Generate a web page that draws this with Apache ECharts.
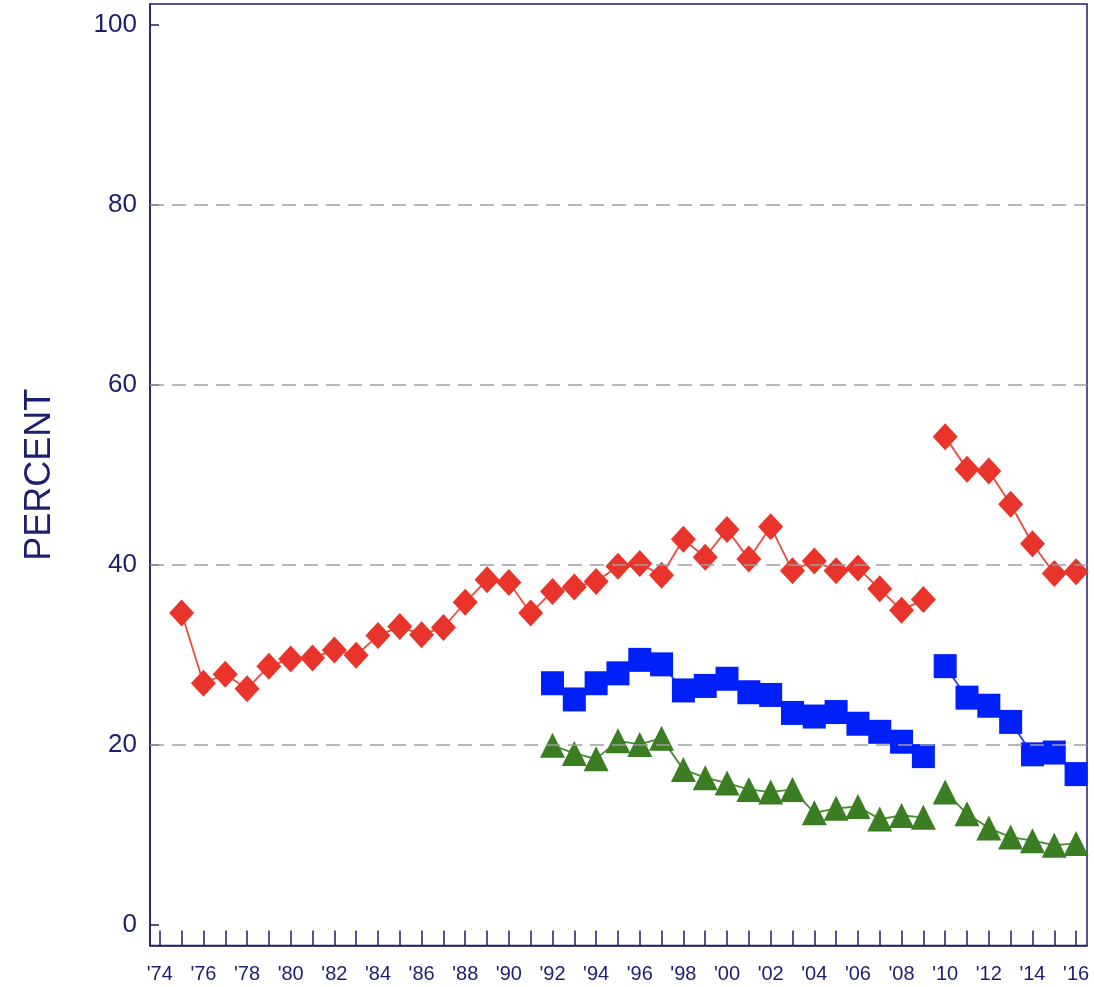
<!DOCTYPE html>
<html>
<head>
<meta charset="utf-8">
<script src="https://cdn.jsdelivr.net/npm/echarts@6/dist/echarts.min.js"></script>
<style>
html,body{margin:0;padding:0;background:#fff;}
#chart{width:1094px;height:987px;}
</style>
</head>
<body>
<div id="chart"></div>
<script>
// ---- data ----
const years = [1975,1976,1977,1978,1979,1980,1981,1982,1983,1984,1985,1986,1987,1988,1989,1990,1991,
  1992,1993,1994,1995,1996,1997,1998,1999,2000,2001,2002,2003,2004,2005,2006,2007,2008,2009,
  2010,2011,2012,2013,2014,2015,2016];
const redValues = [34.6,26.8,27.8,26.2,28.7,29.5,29.6,30.5,29.9,32.1,33.1,32.2,33.0,35.8,38.3,38.0,34.6,
  37.0,37.5,38.1,39.8,40.1,38.8,42.8,40.8,43.9,40.6,44.2,39.3,40.4,39.3,39.6,37.3,34.9,36.1,
  54.2,50.6,50.4,46.7,42.3,39.0,39.2];
const blueValues = [null,null,null,null,null,null,null,null,null,null,null,null,null,null,null,null,null,
  26.8,25.0,26.8,27.9,29.4,28.9,26.0,26.5,27.3,25.8,25.5,23.5,23.1,23.6,22.3,21.4,20.3,18.7,
  28.7,25.2,24.3,22.5,18.9,19.1,16.7];
const greenValues = [null,null,null,null,null,null,null,null,null,null,null,null,null,null,null,null,null,
  19.9,19.0,18.4,20.4,20.0,20.7,17.2,16.3,15.7,15.0,14.7,15.0,12.4,12.9,13.1,11.7,12.1,11.9,
  14.7,12.3,10.7,9.7,9.3,8.8,9.0];
const breakYear = 2010; // series restart (line not connected) from this year
const yTickValues = [0,20,40,60,80,100];
const gridLineValues = [20,40,60,80];
const xTickYears = [];
for (let y = 1974; y <= 2016; y++) xTickYears.push(y);
const xLabelYears = xTickYears.filter(y => y % 2 === 0);

// ---- build ----
function segment(values, before) {
  const out = [];
  years.forEach((y, i) => {
    if (values[i] == null) return;
    if ((y < breakYear) === before) out.push([y, values[i]]);
  });
  return out;
}
const navy = '#1e1e6e';
const styles = [
  {vals: redValues, color: '#e8342a', line: '#ea4a3f', symbol: 'diamond', size: [25, 27]},
  {vals: blueValues, color: '#0020f8', line: '#2a3cf5', symbol: 'rect', size: [23, 24]},
  {vals: greenValues, color: '#3a7d22', line: '#4a8a35', symbol: 'triangle', size: [25, 25]}
];
const series = [];
styles.forEach(s => {
  [true, false].forEach(before => {
    series.push({
      type: 'line',
      data: segment(s.vals, before),
      symbol: s.symbol,
      symbolSize: s.size,
      itemStyle: {color: s.color},
      lineStyle: {color: s.line, width: 1.8},
      showSymbol: true,
      animation: false,
      z: 3
    });
  });
});
series.push({
  type: 'line',
  data: [],
  silent: true,
  markLine: {
    silent: true,
    symbol: ['none', 'none'],
    label: {show: false},
    lineStyle: {color: '#9e9e9e', type: [14, 8], width: 1.5},
    data: gridLineValues.map(v => ({yAxis: v})),
    animation: false
  },
  z: 1
});

const chart = echarts.init(document.getElementById('chart'), null, {renderer: 'canvas'});
chart.setOption({
  animation: false,
  backgroundColor: '#fff',
  grid: {left: 150, right: 7, top: 4, bottom: 41.5, show: true, borderColor: navy, borderWidth: 1.5, backgroundColor: 'transparent'},
  xAxis: {
    type: 'value',
    min: 1973.55,
    max: 2016.5,
    axisLine: {show: true, onZero: false, lineStyle: {color: navy, width: 1.5}},
    axisTick: {show: true, inside: true, length: 15, customValues: xTickYears, lineStyle: {color: navy, width: 1.5}},
    axisLabel: {
      customValues: xLabelYears,
      margin: 19,
      color: navy,
      fontFamily: 'Liberation Sans, Arial, sans-serif',
      fontSize: 20,
      formatter: v => "'" + String(v % 100).padStart(2, '0')
    },
    splitLine: {show: false}
  },
  yAxis: {
    type: 'value',
    min: -2.35,
    max: 102.3,
    name: 'PERCENT',
    nameLocation: 'middle',
    nameRotate: 90,
    nameGap: 92,
    nameTextStyle: {color: navy, fontSize: 36, fontFamily: 'Liberation Sans, Arial, sans-serif'},
    axisLine: {show: true, onZero: false, lineStyle: {color: navy, width: 1.5}},
    axisTick: {show: true, inside: true, length: 9, customValues: yTickValues, lineStyle: {color: navy, width: 1.5}},
    axisLabel: {
      customValues: yTickValues,
      margin: 13,
      color: navy,
      fontFamily: 'Liberation Sans, Arial, sans-serif',
      fontSize: 26
    },
    splitLine: {show: false}
  },
  series: series
});
</script>
</body>
</html>
